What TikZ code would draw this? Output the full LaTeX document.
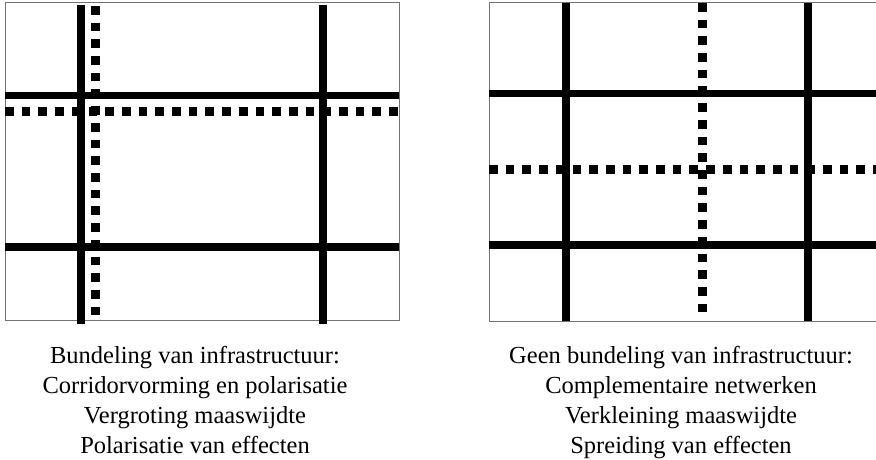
\documentclass[tikz,border=0pt]{standalone}
\usepackage{fontspec}
\setmainfont{Liberation Serif}
\begin{document}
\begin{tikzpicture}[x=1pt,y=-1pt,
  frame/.style={draw=black!55,line width=1pt},
  road/.style={draw=black,line width=7.8pt,line cap=butt},
  altroute/.style={draw=black,line width=9pt,line cap=butt,dash pattern=on 8.7pt off 8pt},
  caption/.style={anchor=base,inner sep=0pt,font=\fontsize{24.5}{30}\selectfont}]
\useasboundingbox (0,0) rectangle (876,460);
\fill[white] (0,0) rectangle (876,460);

% left panel: bundled infrastructure
\draw[frame] (5,3) rectangle (399,320.5);
\draw[road] (5,95.5) -- (399,95.5);
\draw[road] (5,247) -- (399,247);
\draw[altroute] (5,111) -- (399,111);
\draw[road] (81,5) -- (81,324);
\draw[road] (323,5) -- (323,324);
\draw[altroute] (95.5,6) -- (95.5,318);

% right panel: unbundled infrastructure
\draw[frame] (489,3) rectangle (876.5,321);
\draw[road] (489,93.5) -- (876,93.5);
\draw[road] (489,245) -- (876,245);
\draw[altroute] (489,169.5) -- (876,169.5);
\draw[road] (566,3) -- (566,321);
\draw[road] (808,3) -- (808,321);
\draw[altroute] (702,3) -- (702,316);

% captions
\node[caption] (l1) at (195,363) {Bundeling van infrastructuur:};
\node[caption] (l2) at (195,393) {Corridorvorming en polarisatie};
\node[caption] (l3) at (195,423) {Vergroting maaswijdte};
\node[caption] (l4) at (195,453) {Polarisatie van effecten};
\node[caption] (r1) at (681,363) {Geen bundeling van infrastructuur:};
\node[caption] (r2) at (681,393) {Complementaire netwerken};
\node[caption] (r3) at (681,423) {Verkleining maaswijdte};
\node[caption] (r4) at (681,453) {Spreiding van effecten};
\end{tikzpicture}
\end{document}
